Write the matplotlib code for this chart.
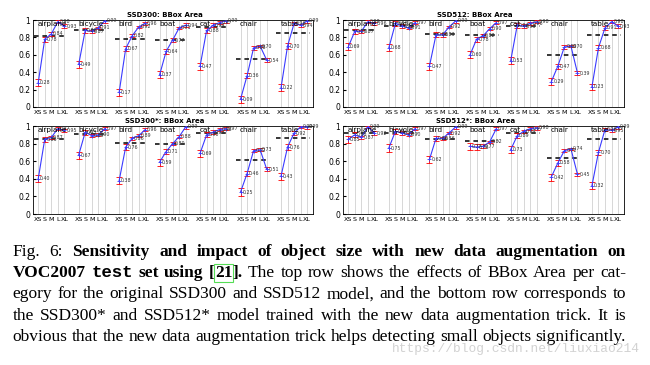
import numpy as np
import matplotlib.pyplot as plt

cats = ["airplane", "bicycle", "bird", "boat", "cat", "chair", "table"]
sizes = ["XS", "S", "M", "L", "XL"]

# normalized AP per category, sizes XS..XL
ssd300 = [[0.28, 0.78, 0.84, 0.98, 0.93],
          [0.49, 0.88, 0.87, 0.91, 0.99],
          [0.17, 0.67, 0.82, 0.92, 0.96],
          [0.37, 0.64, 0.77, 0.91, 0.94],
          [0.47, 0.88, 0.94, 0.97, 0.99],
          [0.09, 0.36, 0.68, 0.70, 0.54],
          [0.22, 0.70, 0.96, 0.94, 0.99]]
avg300 = [0.82, 0.88, 0.78, 0.77, 0.92, 0.55, 0.85]

ssd512 = [[0.69, 0.87, 0.87, 0.98, 0.96],
          [0.68, 0.96, 0.93, 0.91, 0.97],
          [0.47, 0.83, 0.83, 0.92, 0.99],
          [0.60, 0.78, 0.82, 0.90, 0.97],
          [0.53, 0.94, 0.93, 0.96, 0.98],
          [0.29, 0.47, 0.69, 0.70, 0.39],
          [0.23, 0.68, 0.91, 0.98, 0.93]]
avg512 = [0.89, 0.93, 0.84, 0.83, 0.93, 0.60, 0.83]

ssd300s = [[0.40, 0.85, 0.87, 0.97, 0.95],
           [0.67, 0.93, 0.89, 0.90, 0.97],
           [0.38, 0.76, 0.86, 0.89, 0.96],
           [0.59, 0.71, 0.80, 0.88, 0.99],
           [0.69, 0.90, 0.93, 0.96, 0.97],
           [0.25, 0.46, 0.72, 0.73, 0.51],
           [0.43, 0.76, 0.92, 0.99, 0.99]]
avg300s = [0.85, 0.905, 0.81, 0.80, 0.92, 0.61, 0.86]

ssd512s = [[0.85, 0.90, 0.87, 0.99, 0.92],
           [0.75, 0.94, 0.92, 0.90, 0.97],
           [0.62, 0.86, 0.86, 0.92, 0.99],
           [0.77, 0.76, 0.77, 0.82, 0.97],
           [0.73, 0.89, 0.94, 0.97, 0.98],
           [0.42, 0.58, 0.72, 0.74, 0.45],
           [0.32, 0.70, 0.96, 0.95, 0.99]]
avg512s = [0.92, 0.92, 0.85, 0.83, 0.92, 0.64, 0.85]

# rough error bar half-widths per size
err = [0.04, 0.03, 0.02, 0.015, 0.02]

W, H = 650, 365
fig = plt.figure(figsize=(W / 100, H / 100), dpi=100)
GAP = 6.2


def px_axes(x0, y_top, x1, y_bot):
    return fig.add_axes([x0 / W, 1 - y_bot / H, (x1 - x0) / W, (y_bot - y_top) / H])


def draw_panel(ax, title, vals, avgs):
    ticks = []
    for i, cat in enumerate(cats):
        xs = [i * GAP + j for j in range(5)]
        ticks += xs
        ax.errorbar(xs, vals[i], yerr=err, fmt="none", ecolor="red",
                    elinewidth=0.6, capsize=2, capthick=0.6, zorder=3)
        ax.plot(xs, vals[i], color="#3a3aff", lw=0.8, marker="+",
                ms=3, mew=0.6, zorder=4)
        ax.plot([xs[0] - 0.7, xs[-1] + 0.4], [avgs[i]] * 2, color="k",
                lw=1.1, ls=(0, (3, 2.5)), zorder=2)
        for x, v in zip(xs, vals[i]):
            ax.text(x + 0.3, v, f"{v:.2f}", fontsize=3.4, va="center",
                    color="#333333", clip_on=False, zorder=5)
        ax.text(xs[0] - 0.1, 0.955, cat, fontsize=5.2, va="center", zorder=6)
    ax.set_xlim(-0.8, 6 * GAP + 4.9)
    ax.set_ylim(0, 1)
    ax.set_xticks(ticks)
    ax.set_xticklabels(sizes * len(cats))
    ax.set_yticks([0, 0.2, 0.4, 0.6, 0.8, 1])
    ax.set_yticklabels(["0", "0.2", "0.4", "0.6", "0.8", "1"])
    ax.tick_params(axis="x", length=0, pad=2, labelsize=4.6)
    ax.tick_params(axis="y", length=2, direction="in", pad=2, labelsize=5.5)
    ax.set_axisbelow(True)
    ax.grid(axis="x", color="#c8c8c8", lw=0.5)
    for s in ax.spines.values():
        s.set_linewidth(0.6)
    ax.set_title(title, fontsize=5, fontweight="bold", pad=2, x=0.47)


draw_panel(px_axes(33, 20, 313, 107), "SSD300: BBox Area", ssd300, avg300)
draw_panel(px_axes(343, 20, 624, 107), "SSD512: BBox Area", ssd512, avg512)
draw_panel(px_axes(33, 126, 313, 214), "SSD300*: BBox Area", ssd300s, avg300s)
draw_panel(px_axes(343, 126, 624, 214), "SSD512*: BBox Area", ssd512s, avg512s)

# caption, justified by hand
fonts = {"r": dict(family="Liberation Serif"),
         "b": dict(family="Liberation Serif", weight="bold"),
         "mb": dict(family="Liberation Mono", weight="bold"),
         "box": dict(family="Liberation Serif", weight="bold")}


def words(text, style):
    return [[(w, style)] for w in text.split()]


lines = [
    words("Fig. 6:", "r") + words("Sensitivity and impact of object size with new data augmentation on", "b"),
    words("VOC2007", "b") + [[("test", "mb")]] + words("set using", "b")
    + [[("[", "b"), ("21", "box"), ("].", "b")]]
    + words("The top row shows the effects of BBox Area per cat-", "r"),
    words("egory for the original SSD300 and SSD512 model, and the bottom row corresponds to", "r"),
    words("the SSD300* and SSD512* model trained with the new data augmentation trick. It is", "r"),
    words("obvious that the new data augmentation trick helps detecting small objects significantly.", "r"),
]
baselines = [255.7, 277, 298.5, 319.5, 341]
left, right = 12.7, 626

renderer = fig.canvas.get_renderer()


def piece_width(txt, style, size):
    t = fig.text(0, 0, txt, fontsize=size, **fonts[style])
    w = t.get_window_extent(renderer).width
    t.remove()
    return w


# pick the font size so the last line fills the measure
sp12 = piece_width("a a", "r", 12) - 2 * piece_width("a", "r", 12)
ref_w = sum(piece_width(w[0][0], "r", 12) for w in lines[4]) + (len(lines[4]) - 1) * sp12
fsize = 12 * (right - left) / ref_w

for line, yb in zip(lines, baselines):
    widths = [[piece_width(p, s, fsize) for p, s in wd] for wd in line]
    total = sum(sum(w) for w in widths)
    space = (right - left - total) / (len(line) - 1)
    x = left
    for wd, ws in zip(line, widths):
        for (p, s), pw in zip(wd, ws):
            t = fig.text(x / W, 1 - yb / H, p, fontsize=fsize, va="baseline", **fonts[s])
            if s == "box":
                t.set_bbox(dict(boxstyle="square,pad=0.05", fc="none", ec="#55dd55", lw=0.8))
            x += pw
        x += space

fig.text(640 / W, 1 - 352 / H, "https://blog.csdn.net/liuxiao214", fontsize=9.3,
         family="Liberation Mono", color="#d2d2d2", ha="right", va="baseline")

fig.savefig("out.png", dpi=100)
